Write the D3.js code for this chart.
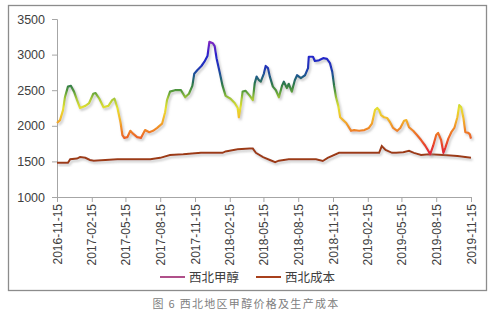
<!DOCTYPE html>
<html><head><meta charset="utf-8">
<script src="https://cdn.jsdelivr.net/npm/d3@7"></script>
<style>
html,body{margin:0;padding:0;background:#fff;}
svg{display:block;}
</style></head>
<body><svg id="c" width="500" height="315"></svg>
<script>
const priceDates = ["2016-11-15","2016-11-23","2016-12-01","2016-12-06","2016-12-14","2016-12-22","2016-12-30","2017-01-07","2017-01-15","2017-01-29","2017-02-08","2017-02-19","2017-02-25","2017-03-07","2017-03-18","2017-03-31","2017-04-10","2017-04-16","2017-04-24","2017-05-02","2017-05-07","2017-05-12","2017-05-20","2017-05-28","2017-06-04","2017-06-15","2017-06-25","2017-07-06","2017-07-17","2017-07-27","2017-08-07","2017-08-20","2017-08-28","2017-09-02","2017-09-10","2017-09-23","2017-10-09","2017-10-20","2017-10-30","2017-11-08","2017-11-13","2017-11-21","2017-12-02","2017-12-10","2017-12-18","2017-12-23","2018-01-01","2018-01-06","2018-01-11","2018-01-19","2018-01-27","2018-02-04","2018-02-17","2018-02-28","2018-03-08","2018-03-11","2018-03-16","2018-03-21","2018-03-29","2018-04-09","2018-04-17","2018-04-22","2018-04-27","2018-05-03","2018-05-08","2018-05-16","2018-05-21","2018-05-27","2018-06-01","2018-06-09","2018-06-17","2018-06-25","2018-07-03","2018-07-08","2018-07-16","2018-07-21","2018-07-29","2018-08-06","2018-08-12","2018-08-22","2018-09-02","2018-09-10","2018-09-12","2018-09-23","2018-09-28","2018-10-09","2018-10-20","2018-10-30","2018-11-07","2018-11-13","2018-11-18","2018-11-23","2018-11-29","2018-12-04","2018-12-12","2018-12-20","2018-12-28","2019-01-02","2019-01-10","2019-01-23","2019-02-06","2019-02-18","2019-02-26","2019-03-06","2019-03-12","2019-03-17","2019-03-22","2019-03-30","2019-04-07","2019-04-15","2019-04-23","2019-05-04","2019-05-12","2019-05-22","2019-05-28","2019-06-04","2019-06-15","2019-06-25","2019-07-06","2019-07-17","2019-07-25","2019-07-30","2019-08-07","2019-08-15","2019-08-20","2019-08-28","2019-09-03","2019-09-08","2019-09-16","2019-09-24","2019-10-02","2019-10-10","2019-10-15","2019-10-20","2019-10-26","2019-10-31","2019-11-08","2019-11-12","2019-11-15"];
const priceValues = [2040,2080,2220,2400,2550,2560,2480,2360,2250,2280,2320,2450,2460,2380,2260,2280,2360,2380,2250,2050,1870,1830,1840,1930,1890,1840,1830,1940,1910,1930,1970,2030,2190,2360,2480,2500,2500,2400,2450,2560,2730,2780,2840,2900,2980,3180,3160,3120,2950,2760,2560,2420,2380,2320,2250,2120,2280,2480,2490,2420,2360,2600,2690,2640,2620,2730,2840,2810,2690,2550,2500,2400,2560,2620,2530,2590,2480,2640,2710,2670,2710,2810,2970,2970,2910,2920,2950,2940,2880,2760,2560,2400,2280,2120,2080,2040,1970,1930,1940,1930,1940,1970,2030,2220,2250,2220,2150,2120,2110,2050,1970,1930,1970,2070,2080,1980,1930,1870,1800,1720,1650,1600,1720,1870,1900,1800,1620,1690,1820,1910,1970,2120,2290,2260,2110,1910,1900,1880,1820];
const costDates = ["2016-11-15","2016-12-14","2016-12-20","2017-01-07","2017-01-15","2017-01-29","2017-02-10","2017-02-20","2017-04-24","2017-07-20","2017-08-15","2017-09-10","2017-10-15","2017-12-01","2018-01-27","2018-02-04","2018-03-08","2018-04-09","2018-04-17","2018-04-25","2018-05-14","2018-06-01","2018-06-15","2018-06-25","2018-07-21","2018-10-01","2018-10-19","2018-11-01","2018-12-01","2019-02-18","2019-03-17","2019-03-24","2019-04-03","2019-04-20","2019-05-01","2019-05-20","2019-06-04","2019-06-17","2019-07-06","2019-07-28","2019-09-03","2019-10-10","2019-11-15"];
const costValues = [1480,1480,1530,1540,1560,1550,1520,1510,1530,1530,1550,1590,1600,1620,1620,1640,1670,1680,1680,1620,1560,1520,1490,1510,1530,1530,1505,1550,1620,1620,1620,1715,1660,1620,1620,1630,1650,1620,1590,1600,1590,1575,1550];
const xTickLabels = ["2016-11-15","2017-02-15","2017-05-15","2017-08-15","2017-11-15","2018-02-15","2018-05-15","2018-08-15","2018-11-15","2019-02-15","2019-05-15","2019-08-15","2019-11-15"];
const yTicks = [1000,1500,2000,2500,3000,3500];
const seriesNames = ["西北甲醇","西北成本"];
const caption = "图 6  西北地区甲醇价格及生产成本";

const parse = d3.timeParse("%Y-%m-%d");
const price = priceDates.map((d,i)=>({date:parse(d), v:priceValues[i]}));
const cost = costDates.map((d,i)=>({date:parse(d), v:costValues[i]}));

const svg = d3.select("#c");
const x = d3.scaleTime().domain([parse("2016-11-15"), parse("2019-11-15")]).range([57,471]);
const y = d3.scaleLinear().domain([1000,3500]).range([197,19]);

const defs = svg.append("defs");
const f = defs.append("filter").attr("id","sh").attr("x","-10%").attr("y","-10%").attr("width","120%").attr("height","130%");
f.append("feDropShadow").attr("dx",1.5).attr("dy",2).attr("stdDeviation",1.2).attr("flood-color","#999").attr("flood-opacity",0.55);

const stops = [[1600,"#e0203c"],[1720,"#e8402c"],[1850,"#ec6a26"],[1980,"#f09028"],[2120,"#f2c02c"],[2250,"#e4e030"],[2380,"#a8c838"],[2480,"#5a9e3a"],[2580,"#2e7a48"],[2700,"#1e5a8c"],[2820,"#2036b8"],[2980,"#2424cc"],[3100,"#5a22c8"],[3200,"#8a2ac0"]];
const g = defs.append("linearGradient").attr("id","pg").attr("gradientUnits","userSpaceOnUse")
  .attr("x1",0).attr("x2",0).attr("y1",y(1600)).attr("y2",y(3200));
stops.forEach(s=>g.append("stop").attr("offset",((s[0]-1600)/1600)).attr("stop-color",s[1]));

// border
svg.append("rect").attr("x",8.5).attr("y",5.5).attr("width",478).attr("height",285)
  .attr("fill","none").attr("stroke","#8c8c8c").attr("stroke-width",1.3);

// y axis
const yAx = svg.append("g").attr("transform","translate(57,0)")
  .call(d3.axisLeft(y).tickValues(yTicks).tickSize(5).tickPadding(7).tickFormat(d3.format("d")));
yAx.select(".domain").attr("stroke","#a6a6a6");
yAx.selectAll(".tick line").attr("stroke","#a6a6a6");
yAx.selectAll("text").attr("font-family","Liberation Sans, Arial, sans-serif").attr("font-size",12.5).attr("fill","#404040");

// x axis
const xAx = svg.append("g").attr("transform","translate(0,197)")
  .call(d3.axisBottom(x).tickValues(xTickLabels.map(parse)).tickSize(5).tickFormat(d3.timeFormat("%Y-%m-%d")));
xAx.select(".domain").attr("stroke","#a6a6a6");
xAx.selectAll(".tick line").attr("stroke","#a6a6a6");
xAx.selectAll("text").attr("font-family","Liberation Sans, Arial, sans-serif").attr("font-size",12).attr("fill","#404040")
  .attr("transform","rotate(-90)").attr("text-anchor","end").attr("dx","-7").attr("dy","0.35em").attr("y",0).attr("x",0);

const line = d3.line().x(d=>x(d.date)).y(d=>y(d.v));
svg.append("path").datum(cost).attr("d",line).attr("fill","none").attr("stroke","#9c3b17").attr("stroke-width",2).attr("filter","url(#sh)");
svg.append("path").datum(price).attr("d",line).attr("fill","none").attr("stroke","url(#pg)").attr("stroke-width",2.2).attr("stroke-linejoin","round").attr("filter","url(#sh)");

// legend
const lg = svg.append("g").attr("font-family","Noto Sans CJK SC, sans-serif").attr("font-size",12.5).attr("fill","#404040");
const legColors = ["#b0508a","#a8401c"];
const legX = [160,256];
seriesNames.forEach((n,i)=>{
  lg.append("line").attr("x1",legX[i]).attr("x2",legX[i]+25).attr("y1",277).attr("y2",277).attr("stroke",legColors[i]).attr("stroke-width",2);
  lg.append("text").attr("x",legX[i]+29).attr("y",281.5).text(n);
});

svg.append("text").attr("x",246).attr("y",308).attr("text-anchor","middle")
  .attr("font-family","Noto Sans CJK SC, sans-serif").attr("font-size",11).attr("letter-spacing",1.3).attr("fill","#808080").text(caption);
</script></body></html>
